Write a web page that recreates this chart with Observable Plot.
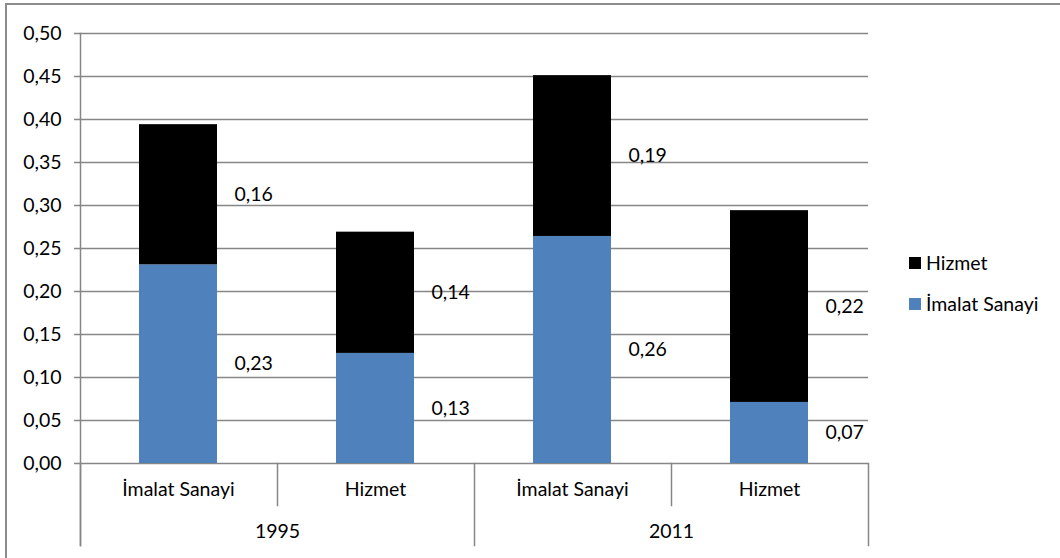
<!DOCTYPE html>
<html><head><meta charset="utf-8">
<script src="https://cdn.jsdelivr.net/npm/d3@7"></script>
<script src="https://cdn.jsdelivr.net/npm/@observablehq/plot@0.6"></script>
<style>
body{margin:0;background:#fff;}
#wrap{position:relative;width:1060px;height:558px;overflow:hidden;font-family:Lato,sans-serif;background:#fff;}
#wrap svg{position:absolute;left:0;top:0;}
#border{position:absolute;left:5px;top:3px;width:1200px;height:700px;border-left:2px solid #8c8c8c;border-top:2px solid #8c8c8c;}
#legend{position:absolute;left:909px;top:242px;font-size:19.5px;color:#000;}
.item{display:flex;align-items:center;height:41px;white-space:nowrap;}
.sw{width:12px;height:12px;margin-right:5px;}
</style>
</head><body>
<div id="wrap"><div id="border"></div><div id="legend"></div></div>
<script>
const years = ["1995", "2011"];
const sectors = ["İmalat Sanayi", "Hizmet"];
const series = ["İmalat Sanayi", "Hizmet"]; // bottom to top
const legendOrder = ["Hizmet", "İmalat Sanayi"];
const seriesColors = ["#4F81BD", "#000000"];
// order: 1995 İmalat Sanayi, 1995 Hizmet, 2011 İmalat Sanayi, 2011 Hizmet
const imalatValues = [0.231, 0.128, 0.264, 0.071];
const hizmetValues = [0.163, 0.141, 0.187, 0.223];
const yTicks = [0, 0.05, 0.10, 0.15, 0.20, 0.25, 0.30, 0.35, 0.40, 0.45, 0.50];

const cats = [];
years.forEach(y => sectors.forEach(s => cats.push({year: y, sector: s})));
const rows = [];
cats.forEach((c, i) => {
  rows.push({...c, series: series[0], value: imalatValues[i]});
  rows.push({...c, series: series[1], value: hizmetValues[i]});
});
const fmt = v => v.toFixed(2).replace(".", ",");

const W = 1060, H = 558, ML = 80, MR = 192, MT = 33, MB = 95;
const innerH = H - MT - MB;
const facetW = (W - ML - MR) / years.length;
const gray = "#868686";

const plot = Plot.plot({
  width: W, height: H,
  marginLeft: ML, marginRight: MR, marginTop: MT, marginBottom: MB,
  style: {fontFamily: "Lato, sans-serif", fontSize: "19.5px", color: "#000", background: "transparent", overflow: "visible"},
  fx: {domain: years, padding: 0, axis: null, label: null},
  x: {domain: sectors, paddingInner: 0.604, paddingOuter: 0.302, axis: null, label: null},
  y: {domain: [0, 0.5], axis: null, label: null},
  color: {domain: series, range: seriesColors},
  marks: [
    Plot.gridY(yTicks, {stroke: gray, strokeOpacity: 1, strokeWidth: 1.5}),
    Plot.axisY({ticks: yTicks, tickFormat: fmt, tickSize: 6, tickPadding: 13, stroke: gray, strokeWidth: 1.5, strokeOpacity: 1, label: null, fontSize: "19.5px", fill: "#000"}),
    Plot.frame({anchor: "left", facetAnchor: "left", insetBottom: -82, stroke: gray, strokeWidth: 1.5}),
    Plot.frame({anchor: "left", insetTop: innerH, insetBottom: -82, stroke: gray, strokeWidth: 1.5}),
    Plot.frame({anchor: "right", facetAnchor: "right", insetTop: innerH, insetBottom: -82, stroke: gray, strokeWidth: 1.5}),
    Plot.frame({anchor: "left", insetLeft: facetW / 2, insetTop: innerH, insetBottom: -42, stroke: gray, strokeWidth: 1.5}),
    Plot.barY(rows, {fx: "year", x: "sector", y: "value", fill: "series"}),
    Plot.text(rows, Plot.stackY({fx: "year", x: "sector", y: "value", z: "series", text: d => fmt(d.value), dx: 56, textAnchor: "start", fill: "#000"})),
    Plot.text(cats, {fx: "year", x: "sector", text: "sector", frameAnchor: "bottom", dy: 32, fill: "#000"}),
    Plot.text(years, {fx: d => d, text: d => d, frameAnchor: "bottom", dy: 74, fill: "#000"})
  ]
});
document.getElementById("wrap").appendChild(plot);

const leg = document.getElementById("legend");
legendOrder.forEach(s => {
  const it = document.createElement("div");
  it.className = "item";
  const sw = document.createElement("div");
  sw.className = "sw";
  sw.style.background = seriesColors[series.indexOf(s)];
  const t = document.createElement("span");
  t.textContent = s;
  it.appendChild(sw); it.appendChild(t);
  leg.appendChild(it);
});
</script>
</body></html>
